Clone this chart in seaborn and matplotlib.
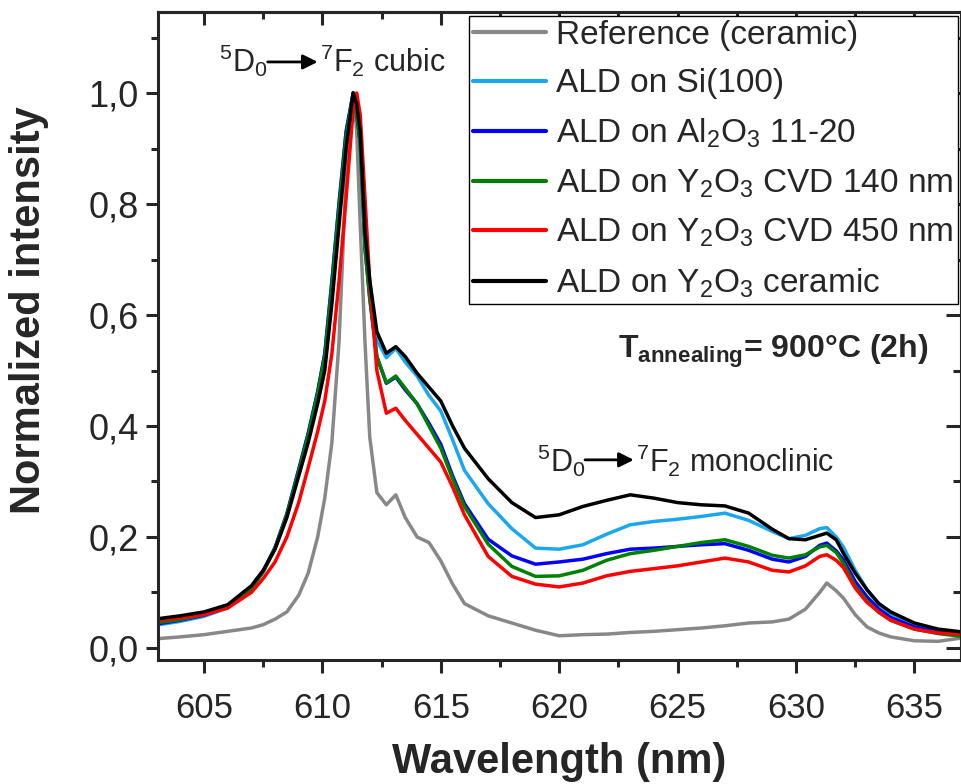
import numpy as np
import pandas as pd
import seaborn as sns
import matplotlib.pyplot as plt
from matplotlib.ticker import MultipleLocator, FuncFormatter

# %% Data

wl = [603.1, 604, 605, 606, 607, 607.5, 608, 608.5, 609, 609.4, 609.8, 610.1,
      610.4, 610.7, 611.0, 611.3, 611.45, 611.6, 611.8, 612.0, 612.3, 612.7,
      613.1, 613.5, 614.0, 614.5, 615.0, 615.5, 616.0, 617, 618, 619, 620,
      621, 622, 623, 624, 625, 626, 627, 628, 629, 629.7, 630.4, 631.0, 631.3,
      631.7, 632.0, 632.5, 633.0, 633.5, 634.0, 635, 636, 637]

ref_ceramic = [0.017, 0.02, 0.024, 0.03, 0.036, 0.042, 0.052, 0.065, 0.095,
               0.135, 0.2, 0.27, 0.37, 0.55, 0.85, 1.0, 0.93, 0.76, 0.55,
               0.38, 0.28, 0.258, 0.276, 0.235, 0.2, 0.19, 0.157, 0.115, 0.08,
               0.058, 0.045, 0.032, 0.022, 0.024, 0.025, 0.028, 0.03, 0.033,
               0.036, 0.04, 0.045, 0.047, 0.052, 0.07, 0.1, 0.117, 0.103,
               0.09, 0.06, 0.038, 0.027, 0.02, 0.013, 0.012, 0.018]

ald_si = [0.042, 0.048, 0.057, 0.072, 0.107, 0.137, 0.18, 0.24, 0.32, 0.385,
          0.46, 0.53, 0.66, 0.80, 0.93, 1.0, 0.97, 0.92, 0.74, 0.65, 0.555,
          0.523, 0.54, 0.515, 0.49, 0.455, 0.427, 0.375, 0.32, 0.26, 0.215,
          0.18, 0.178, 0.186, 0.205, 0.222, 0.228, 0.232, 0.237, 0.243, 0.23,
          0.21, 0.197, 0.203, 0.215, 0.217, 0.2, 0.182, 0.14, 0.105, 0.078,
          0.062, 0.043, 0.033, 0.027]

ald_al2o3 = [0.044, 0.05, 0.059, 0.074, 0.108, 0.138, 0.181, 0.242, 0.322,
             0.387, 0.462, 0.53, 0.66, 0.80, 0.93, 1.0, 0.96, 0.91, 0.72,
             0.63, 0.525, 0.477, 0.488, 0.465, 0.44, 0.405, 0.367, 0.31,
             0.26, 0.196, 0.166, 0.151, 0.155, 0.16, 0.17, 0.178, 0.18,
             0.183, 0.186, 0.188, 0.176, 0.16, 0.155, 0.165, 0.185, 0.189,
             0.175, 0.159, 0.12, 0.092, 0.07, 0.055, 0.038, 0.029, 0.023]

ald_cvd140 = [0.046, 0.051, 0.06, 0.075, 0.108, 0.138, 0.18, 0.24, 0.318,
              0.383, 0.458, 0.525, 0.65, 0.79, 0.92, 1.0, 0.96, 0.91, 0.72,
              0.63, 0.525, 0.478, 0.49, 0.468, 0.44, 0.40, 0.36, 0.305,
              0.255, 0.187, 0.147, 0.129, 0.13, 0.14, 0.158, 0.17, 0.176,
              0.183, 0.19, 0.195, 0.183, 0.167, 0.162, 0.168, 0.182, 0.185,
              0.172, 0.153, 0.112, 0.085, 0.064, 0.05, 0.034, 0.026, 0.021]

ald_cvd450 = [0.05, 0.054, 0.06, 0.072, 0.10, 0.125, 0.155, 0.20, 0.262,
              0.325, 0.39, 0.445, 0.53, 0.66, 0.81, 0.97, 1.0, 0.96, 0.81,
              0.66, 0.50, 0.423, 0.432, 0.41, 0.385, 0.36, 0.335, 0.29, 0.24,
              0.165, 0.129, 0.115, 0.11, 0.117, 0.13, 0.138, 0.143, 0.148,
              0.155, 0.162, 0.155, 0.14, 0.137, 0.148, 0.165, 0.168, 0.158,
              0.145, 0.108, 0.082, 0.065, 0.05, 0.034, 0.027, 0.025]

ald_ceramic = [0.053, 0.058, 0.065, 0.078, 0.112, 0.14, 0.178, 0.235, 0.31,
               0.37, 0.44, 0.50, 0.62, 0.76, 0.90, 1.0, 0.98, 0.93, 0.75,
               0.663, 0.57, 0.531, 0.543, 0.525, 0.495, 0.47, 0.445, 0.40,
               0.36, 0.305, 0.262, 0.235, 0.24, 0.255, 0.266, 0.276, 0.27,
               0.262, 0.258, 0.256, 0.243, 0.214, 0.197, 0.195, 0.203, 0.207,
               0.195, 0.171, 0.135, 0.105, 0.08, 0.065, 0.045, 0.034, 0.029]

lst_labels = ['Reference (ceramic)',
              'ALD on Si(100)',
              'ALD on Al$_2$O$_3$ 11-20',
              'ALD on Y$_2$O$_3$ CVD 140 nm',
              'ALD on Y$_2$O$_3$ CVD 450 nm',
              'ALD on Y$_2$O$_3$ ceramic']
lst_series = [ref_ceramic, ald_si, ald_al2o3, ald_cvd140, ald_cvd450,
              ald_ceramic]
lst_colors = ['#888888', '#1aa7ef', '#0000ff', '#008000', '#ff0000', '#000000']

# %% Build long data frame

df = pd.concat([pd.DataFrame({'wl': wl, 'val': vals, 'sample': lab})
                for lab, vals in zip(lst_labels, lst_series)],
               ignore_index=True)

# %% Plot

sns.set_style('ticks')
plt.rcParams['font.family'] = ['Liberation Sans', 'DejaVu Sans']
plt.rcParams['mathtext.fontset'] = 'custom'
plt.rcParams['mathtext.rm'] = 'Liberation Sans'
plt.rcParams['mathtext.it'] = 'Liberation Sans:italic'
plt.rcParams['mathtext.bf'] = 'Liberation Sans:bold'
plt.rcParams['mathtext.default'] = 'regular'

fig = plt.figure(figsize=(9.62, 7.84), dpi=100)
ax = fig.add_axes([0.1643, 0.1582, 0.8347, 0.8265])

sns.lineplot(data=df, x='wl', y='val', hue='sample', hue_order=lst_labels,
             palette=dict(zip(lst_labels, lst_colors)), estimator=None,
             sort=False, linewidth=2.5, ax=ax)

ax.set_xlim(603.06, 636.97)
ax.set_ylim(-0.0216, 1.146)

# ticks: outward on left/bottom, inward on top/right
ax.xaxis.set_major_locator(MultipleLocator(5))
ax.xaxis.set_minor_locator(MultipleLocator(2.5))
ax.yaxis.set_major_locator(MultipleLocator(0.2))
ax.yaxis.set_minor_locator(MultipleLocator(0.1))
ax.yaxis.set_major_formatter(FuncFormatter(lambda v, p: f'{v:.1f}'.replace('.', ',')))
ax.tick_params(which='major', direction='out', length=9, width=2.2)
ax.tick_params(which='minor', direction='out', length=5, width=2.2)
ax.tick_params(axis='y', labelsize=26, pad=5)
ax.tick_params(axis='x', labelsize=25, pad=14)

sec_x = ax.secondary_xaxis('top')
sec_x.xaxis.set_major_locator(MultipleLocator(5))
sec_x.xaxis.set_minor_locator(MultipleLocator(2.5))
sec_x.tick_params(which='major', direction='in', length=9, width=2.2, labeltop=False)
sec_x.tick_params(which='minor', direction='in', length=5, width=2.2)
sec_y = ax.secondary_yaxis('right')
sec_y.yaxis.set_major_locator(MultipleLocator(0.2))
sec_y.yaxis.set_minor_locator(MultipleLocator(0.1))
sec_y.tick_params(which='major', direction='in', length=11, width=2.2, labelright=False)
sec_y.tick_params(which='minor', direction='in', length=6, width=2.2)
for sa in (sec_x, sec_y):
    for sp in sa.spines.values():
        sp.set_linewidth(2.2)

for sp in ax.spines.values():
    sp.set_linewidth(2.2)
    sp.set_visible(True)

ax.set_xlabel('Wavelength (nm)', fontsize=30, fontweight='bold', labelpad=12)
ax.set_ylabel('Normalized intensity', fontsize=30, fontweight='bold')
ax.yaxis.set_label_coords(-0.136, 0.54)

# legend
handles, labels = ax.get_legend_handles_labels()
leg = ax.legend(handles, labels, loc='upper right', bbox_to_anchor=(0.996, 0.994),
                borderaxespad=0, fontsize=24, frameon=True, fancybox=False,
                framealpha=1, edgecolor='black', handlelength=2.2,
                handletextpad=0.3, borderpad=0.12, labelspacing=0.52)
leg.get_frame().set_linewidth(1.0)
for ln in leg.get_lines():
    ln.set_linewidth(3)

# annotations
arrow_kw = dict(arrowstyle='-|>', color='black', lw=2, mutation_scale=22,
                shrinkA=0, shrinkB=0)
ax.text(607.69, 1.038, '$^5$D$_0$', fontsize=22, ha='right', va='baseline')
ax.annotate('', xy=(609.8, 1.056), xytext=(607.69, 1.056), arrowprops=arrow_kw)
ax.text(609.9, 1.038, '$^7$F$_2$ cubic', fontsize=22, ha='left', va='baseline')

ax.text(621.09, 0.318, '$^5$D$_0$', fontsize=22, ha='right', va='baseline')
ax.annotate('', xy=(623.15, 0.339), xytext=(621.09, 0.339), arrowprops=arrow_kw)
ax.text(623.25, 0.318, '$^7$F$_2$ monoclinic', fontsize=22, ha='left', va='baseline')

ax.text(635.58, 0.523, r'T$_{\mathbf{annealing}}$= 900°C (2h)', fontsize=23,
        fontweight='bold', ha='right', va='baseline')

fig.savefig('out.png', dpi=100)
